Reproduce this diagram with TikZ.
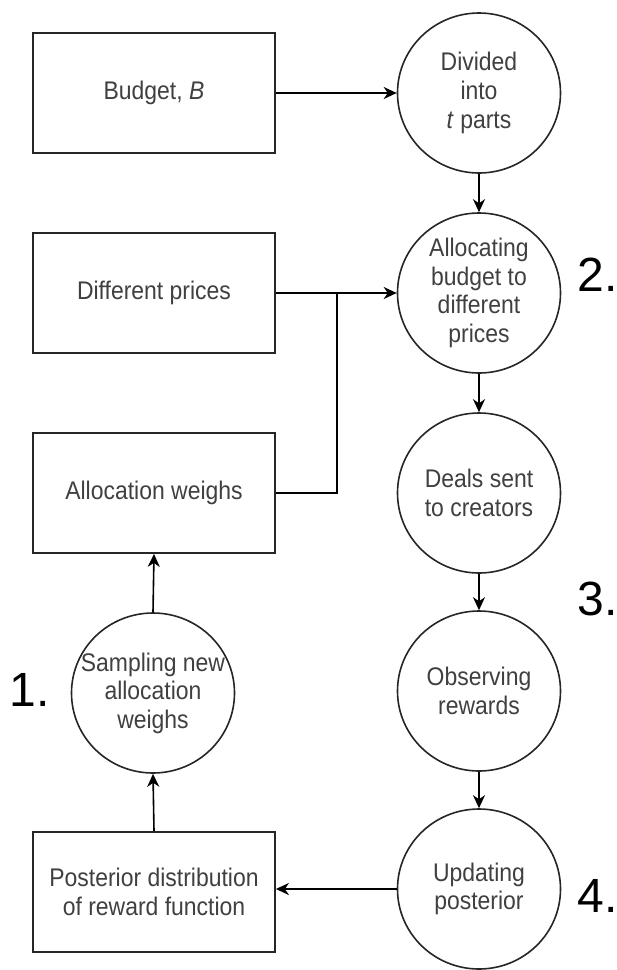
\documentclass[tikz,border=0pt]{standalone}
\usepackage{fontspec}
\setmainfont{Liberation Sans}
\newfontfamily\narrowsans[FakeStretch=0.9]{Liberation Sans}
\usetikzlibrary{shapes.geometric,arrows.meta}
\begin{document}
\begin{tikzpicture}[x=1pt,y=-1pt,
  boxnode/.style={draw=black!85,line width=1.8pt,rectangle,minimum width=242pt,minimum height=120pt,inner sep=0pt},
  circnode/.style={draw=black!85,line width=1.6pt,ellipse,minimum width=163pt,minimum height=160pt,inner sep=0pt},
  txt/.style={align=center,text=black!75,font=\narrowsans\fontsize{25.5}{28.6}\selectfont,inner sep=0pt},
  num/.style={font=\fontsize{48}{48}\selectfont,inner sep=0pt,text=black},
  arr/.style={draw=black,line width=1.6pt,-{Stealth[length=13pt,width=12pt,inset=4pt]}},
  ln/.style={draw=black,line width=1.6pt}
]
\useasboundingbox (0,0) rectangle (617,970);
\fill[white] (0,0) rectangle (617,970);

% boxes
\node[boxnode] (budget) at (154,93) {};
\node[txt] (budgett) at (budget) {Budget, \textit{B}};
\node[boxnode] (prices) at (154,293) {};
\node[txt] (pricest) at (prices) {Different prices};
\node[boxnode] (weights) at (154,493) {};
\node[txt] (weightst) at (weights) {Allocation weighs};
\node[boxnode] (post) at (154,892) {};
\node[txt] (postt) at (post) {Posterior distribution\\of reward function};

% circles
\node[circnode] (divided) at (479,93) {};
\node[txt] (dividedt) at (divided) {Divided\\into\\\textit{t} parts};
\node[circnode] (alloc) at (479,293) {};
\node[txt] (alloct) at (alloc) {Allocating\\budget to\\different\\prices};
\node[circnode] (deals) at (479,493) {};
\node[txt] (dealst) at (deals) {Deals sent\\to creators};
\node[circnode] (observe) at (479,691) {};
\node[txt] (observet) at (observe) {Observing\\rewards};
\node[circnode] (update) at (479,889) {};
\node[txt] (updatet) at (update) {Updating\\posterior};
\node[circnode] (sample) at (153,693) {};
\node[txt] (samplet) at (sample) {Sampling new\\allocation\\weighs};

% numbers
\node[num] (n1) at (30,690) {1.};
\node[num] (n2) at (598,275) {2.};
\node[num] (n3) at (598,599) {3.};
\node[num] (n4) at (598,896) {4.};

% connectors
\coordinate (junc) at (337,293);
\draw[arr] (budget.east) -- (divided.west);
\draw[arr] (divided.south) -- (alloc.north);
\draw[arr] (prices.east) -- (alloc.west);
\draw[ln] (weights.east) -| (junc);
\draw[arr] (alloc.south) -- (deals.north);
\draw[arr] (deals.south) -- (observe.north);
\draw[arr] (observe.south) -- (update.north);
\draw[arr] (update.west) -- (update.west -| post.east);
\draw[arr] (post.north) -- (sample.south);
\draw[arr] (sample.north) -- (weights.south);
\end{tikzpicture}
\end{document}
